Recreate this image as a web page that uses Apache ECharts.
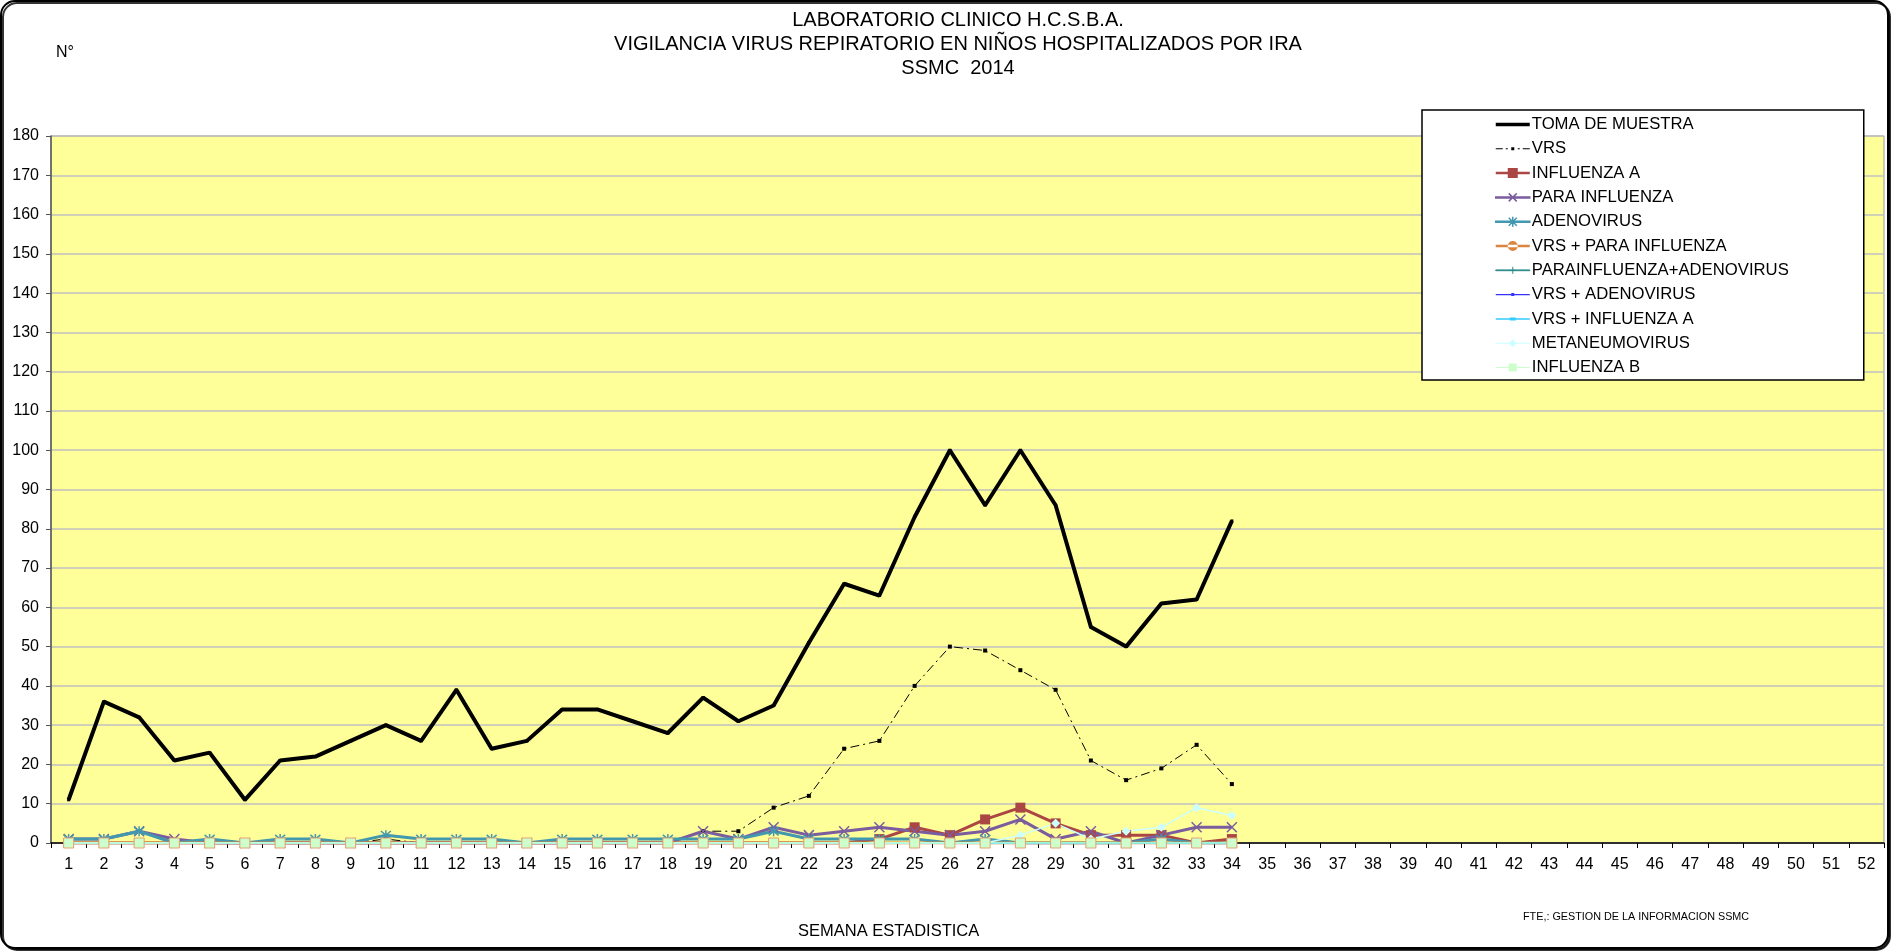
<!DOCTYPE html>
<html>
<head>
<meta charset="utf-8">
<title>Vigilancia virus respiratorio 2014</title>
<script src="https://cdn.jsdelivr.net/npm/echarts@6/dist/echarts.min.js"></script>
<style>
  html, body { margin: 0; padding: 0; background: #fff; }
  #chart { width: 1891px; height: 951px; }
</style>
</head>
<body>
<div id="chart"></div>
<script>
const FONT = "Liberation Sans, Arial, sans-serif";

// semanas estadisticas (eje X)
const WEEKS = ["1","2","3","4","5","6","7","8","9","10","11","12","13","14","15","16","17","18",
  "19","20","21","22","23","24","25","26","27","28","29","30","31","32","33","34","35","36",
  "37","38","39","40","41","42","43","44","45","46","47","48","49","50","51","52"];

// valores semana 1..34 (lo demás sin datos)
const TOMA = [11,36,32,21,23,11,21,22,26,30,26,39,24,26,34,34,31,28,37,31,35,51,66,63,83,100,86,100,86,55,50,61,62,82];
const VRS = [0,0,0,0,0,0,0,0,0,1,0,0,0,0,0,0,0,0,3,3,9,12,24,26,40,50,49,44,39,21,16,19,25,15];
const INFLU_A = [0,0,0,0,0,0,0,0,0,0,0,0,0,0,0,0,0,0,0,0,0,0,0,1,4,2,6,9,5,2,2,2,0,1];
const PARA = [1,1,3,1,0,0,0,0,0,0,0,0,0,0,0,0,0,0,3,1,4,2,3,4,3,2,3,6,1,3,0,2,4,4];
const ADENO = [1,1,3,0,1,0,1,1,0,2,1,1,1,0,1,1,1,1,1,1,3,1,1,1,1,0,1,0,0,0,0,1,0,0];
const VRS_PARA = [0,0,0,0,0,0,0,0,0,0,0,0,0,0,0,0,0,0,0,0,0,0,0,0,0,0,0,0,0,0,0,0,0,0];
const PARA_ADENO = [0,0,0,0,0,0,0,0,0,0,0,0,0,0,0,0,0,0,0,0,0,0,0,0,0,0,0,0,0,0,0,0,0,0];
const VRS_ADENO = [0,0,0,0,0,0,0,0,0,0,0,0,0,0,0,0,0,0,0,0,0,0,0,0,0,0,0,0,0,0,0,0,0,0];
const VRS_INFLU_A = [0,0,0,0,0,0,0,0,0,0,0,0,0,0,0,0,0,0,0,0,0,0,0,0,0,0,0,0,0,0,0,0,0,0];
const METANEUMO = [0,0,0,0,0,0,0,0,0,0,0,0,0,0,0,0,0,0,0,0,0,0,0,0,0,0,0,2,5,1,3,4,9,7];
const INFLU_B = [0,0,0,0,0,0,0,0,0,0,0,0,0,0,0,0,0,0,0,0,0,0,0,0,0,0,0,0,0,0,0,0,0,0];

const Y_TICKS = { min: 0, max: 180, interval: 10 };

// simbolos estilo Excel
const SYM_X = "path://M0,0L10,10M10,0L0,10";
const SYM_STAR = "path://M0,0L10,10M10,0L0,10M5,-1L5,11";
const SYM_PLUS = "path://M5,0L5,10M0,5L10,5";

function lineSeries(name, data, color, width, symbol, size, extra = {}) {
  return Object.assign({
    name,
    type: "line",
    data,
    symbol,
    symbolSize: size,
    showAllSymbol: true,
    lineStyle: { color, width },
    itemStyle: { color, borderColor: color, borderWidth: 0 },
    emphasis: { disabled: true },
    animation: false,
  }, extra);
}

function strokeSymbol(color, bw) {
  return { color: "rgba(0,0,0,0)", borderColor: color, borderWidth: bw };
}

const series = [
  lineSeries("TOMA DE MUESTRA", TOMA, "#000000", 4, "rect", 3),
  lineSeries("VRS", VRS, "#000000", 1, "rect", 4,
    { lineStyle: { color: "#000000", width: 1, type: [9, 4, 2, 4] } }),
  lineSeries("INFLUENZA A", INFLU_A, "#AA4643", 3, "rect", 10),
  lineSeries("PARA INFLUENZA", PARA, "#7B5C9E", 3, SYM_X, 10,
    { itemStyle: strokeSymbol("#7B5C9E", 1.5) }),
  lineSeries("ADENOVIRUS", ADENO, "#4198AF", 3, SYM_STAR, 10,
    { itemStyle: strokeSymbol("#4198AF", 1.5) }),
  lineSeries("VRS + PARA INFLUENZA", VRS_PARA, "#DB843D", 3, "circle", 10),
  lineSeries("PARAINFLUENZA+ADENOVIRUS", PARA_ADENO, "#2E8C8C", 1.5, SYM_PLUS, 8,
    { itemStyle: strokeSymbol("#2E8C8C", 1.5) }),
  lineSeries("VRS + ADENOVIRUS", VRS_ADENO, "#3333FF", 1.5, "rect", 4),
  lineSeries("VRS + INFLUENZA A", VRS_INFLU_A, "#33CCFF", 2, "rect", [8, 3]),
  lineSeries("METANEUMOVIRUS", METANEUMO, "#CCFFFF", 1.5, "diamond", 9),
  lineSeries("INFLUENZA B", INFLU_B, "#CCFFCC", 1.5, "rect", 10,
    { itemStyle: { color: "#CCFFCC", borderColor: "#E8A070", borderWidth: 1 } }),
];

// iconos de la leyenda (caja 34x14): linea + marcador como en Excel
const LEGEND_ICONS = {
  "TOMA DE MUESTRA": ["path://M0,5.25h34v3.5h-34z", "#000000", 0],
  "VRS": ["path://M0,6.5h7v1h-7zM10,6.5h2v1h-2zM15.5,5.5h3v3h-3zM22,6.5h2v1h-2zM27,6.5h7v1h-7z", "#000000", 0],
  "INFLUENZA A": ["path://M0,5.75h34v2.5h-34zM12,2h10v10h-10z", "#AA4643", 0],
  "PARA INFLUENZA": ["path://M0,6.5h34v1h-34zM13,3L21,11M21,3L13,11", "#7B5C9E", 1.5],
  "ADENOVIRUS": ["path://M0,6.5h34v1h-34zM13,3L21,11M21,3L13,11M17,2L17,12", "#4198AF", 1.5],
  "VRS + PARA INFLUENZA": ["path://M0,5.75h34v2.5h-34zM12,7a5,5 0 1,0 10,0a5,5 0 1,0 -10,0z", "#DB843D", 0],
  "PARAINFLUENZA+ADENOVIRUS": ["path://M0,6.6h34v0.8h-34zM17,3.5L17,10.5M14,7L20,7", "#2E8C8C", 1],
  "VRS + ADENOVIRUS": ["path://M0,6.4h34v1.2h-34zM15.5,5.5h3v3h-3z", "#3333FF", 0],
  "VRS + INFLUENZA A": ["path://M0,6.25h34v1.5h-34zM14,5.5h6v3h-6z", "#33CCFF", 0],
  "METANEUMOVIRUS": ["path://M0,6.5h34v1h-34zM17,3L21,7L17,11L13,7z", "#CCFFFF", 0],
  "INFLUENZA B": ["path://M0,6.5h34v1h-34zM13,3h8v8h-8z", "#CCFFCC", 0],
};

const legendData = series.map(s => {
  const [icon, color, bw] = LEGEND_ICONS[s.name];
  return { name: s.name, icon, itemStyle: { color, borderColor: color, borderWidth: bw, opacity: 1 } };
});

const chart = echarts.init(document.getElementById("chart"));
chart.setOption({
  animation: false,
  textStyle: { fontFamily: FONT, color: "#000" },
  title: {
    text: "LABORATORIO CLINICO H.C.S.B.A.\nVIGILANCIA VIRUS REPIRATORIO EN NIÑOS HOSPITALIZADOS POR IRA\nSSMC  2014",
    left: 953, top: 3, textAlign: "center",
    textStyle: { fontFamily: FONT, fontSize: 20, fontWeight: "normal", lineHeight: 24, color: "#000" },
  },
  legend: {
    orient: "vertical",
    left: 1422, top: 110,
    padding: [6, 75, 4, 73],
    itemGap: 7.3,
    itemWidth: 34, itemHeight: 14,
    symbolKeepAspect: true,
    backgroundColor: "#fff",
    borderColor: "#000", borderWidth: 1.5,
    textStyle: { fontFamily: FONT, fontSize: 16.7, color: "#000", padding: [0, 0, 0, -3] },
    data: legendData,
    selectedMode: false,
  },
  grid: {
    left: 51, top: 136, right: 7, bottom: 108,
    show: true, backgroundColor: "#FFFF99", borderColor: "#999999", borderWidth: 1,
  },
  xAxis: {
    type: "category",
    data: WEEKS,
    boundaryGap: true,
    axisLine: { lineStyle: { color: "#000", width: 1.5 } },
    axisTick: { show: true, length: 5, lineStyle: { color: "#000" } },
    axisLabel: { fontFamily: FONT, fontSize: 16, color: "#000", margin: 14, interval: 0 },
    splitLine: { show: false },
  },
  yAxis: {
    type: "value",
    min: Y_TICKS.min, max: Y_TICKS.max, interval: Y_TICKS.interval,
    axisLine: { show: true, lineStyle: { color: "#555", width: 1.5 } },
    axisTick: { show: true, length: 5, lineStyle: { color: "#555" } },
    axisLabel: { fontFamily: FONT, fontSize: 16, color: "#000", margin: 12 },
    splitLine: { lineStyle: { color: "#C0C0C0", width: 1.5 } },
  },
  graphic: [
    { type: "rect", silent: true, z: -10,
      shape: { x: 1, y: 1, width: 1887, height: 947, r: 14 },
      style: { fill: "#fff", stroke: "#000", lineWidth: 2,
        shadowColor: "rgba(0,0,0,0.8)", shadowOffsetX: 2, shadowOffsetY: 2, shadowBlur: 0 } },
    { type: "text", left: 56, top: 45,
      style: { text: "N°", font: "16px " + FONT, fill: "#000" } },
    { type: "text", left: 798, top: 923,
      style: { text: "SEMANA ESTADISTICA", font: "16.5px " + FONT, fill: "#000" } },
    { type: "text", left: 1523, top: 912,
      style: { text: "FTE,: GESTION DE LA INFORMACION SSMC", font: "10.8px " + FONT, fill: "#000" } },
  ],
  series,
});
</script>
</body>
</html>
